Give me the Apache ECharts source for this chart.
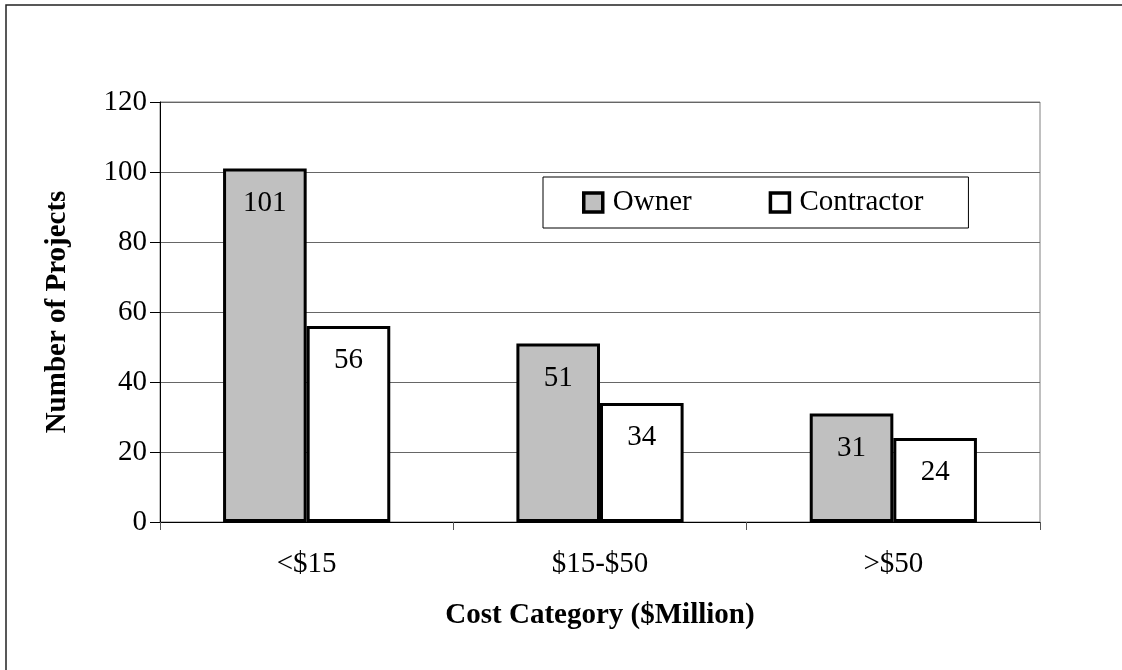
<!DOCTYPE html>
<html>
<head>
<meta charset="utf-8">
<script src="https://cdn.jsdelivr.net/npm/echarts@6/dist/echarts.min.js"></script>
<style>
  html, body { margin: 0; padding: 0; background: #fff; }
  #chart { width: 1122px; height: 670px; }
</style>
</head>
<body>
<div id="chart"></div>
<script>
// Project counts by cost category, split by who delivered the data
const categories = ['<$15', '$15-$50', '>$50'];
const ownerCounts = [101, 51, 31];
const contractorCounts = [56, 34, 24];
const yTicks = { min: 0, max: 120, interval: 20 };

const serif = '"Liberation Serif", "Times New Roman", Times, serif';
const FS = 29;

const valueLabel = {
  show: true,
  position: 'insideTop',
  distance: 20,
  color: '#000',
  fontFamily: serif,
  fontSize: FS
};

const chart = echarts.init(document.getElementById('chart'), null, { renderer: 'canvas' });

chart.setOption({
  backgroundColor: '#fff',
  animation: false,
  graphic: [{
    type: 'rect',
    shape: { x: 6, y: 5, width: 1200, height: 700 },
    style: { fill: 'none', stroke: '#222', lineWidth: 1.5 },
    silent: true
  }],
  grid: {
    left: 160, right: 82, top: 102, bottom: 148,
    show: true, borderColor: '#808080', borderWidth: 1, backgroundColor: 'transparent'
  },
  legend: {
    left: 543, top: 177,
    orient: 'horizontal',
    backgroundColor: '#fff',
    borderColor: '#000', borderWidth: 1,
    padding: [11, 45, 11, 39],
    itemWidth: 19, itemHeight: 19, itemGap: 77,
    icon: 'rect',
    itemStyle: { borderColor: '#000', borderWidth: 3.5 },
    textStyle: { fontFamily: serif, fontSize: FS, color: '#000', padding: [0, 0, 0, 5] },
    data: ['Owner', 'Contractor']
  },
  xAxis: {
    type: 'category',
    data: categories,
    name: 'Cost Category ($Million)',
    nameLocation: 'middle',
    nameGap: 79,
    nameTextStyle: { fontFamily: serif, fontSize: FS, fontWeight: 'bold', color: '#000' },
    axisLine: { lineStyle: { color: '#000', width: 1 } },
    axisTick: { show: true, length: 8, lineStyle: { color: '#555' } },
    axisLabel: { margin: 28, fontFamily: serif, fontSize: FS, color: '#000' },
    splitLine: { show: false }
  },
  yAxis: {
    type: 'value',
    min: yTicks.min, max: yTicks.max, interval: yTicks.interval,
    name: 'Number of Projects',
    nameLocation: 'middle',
    nameGap: 88,
    nameTextStyle: { fontFamily: serif, fontSize: FS, fontWeight: 'bold', color: '#000' },
    axisLine: { show: true, lineStyle: { color: '#000', width: 1 } },
    axisTick: { show: true, length: 10, lineStyle: { color: '#000' } },
    axisLabel: { margin: 13, fontFamily: serif, fontSize: FS, color: '#000' },
    splitLine: { show: true, lineStyle: { color: '#666', width: 1 } }
  },
  series: [
    {
      name: 'Owner',
      type: 'bar',
      data: ownerCounts,
      barGap: '0%',
      barCategoryGap: '43%',
      itemStyle: { color: '#c0c0c0', borderColor: '#000', borderWidth: 3 },
      label: valueLabel
    },
    {
      name: 'Contractor',
      type: 'bar',
      data: contractorCounts,
      itemStyle: { color: '#fff', borderColor: '#000', borderWidth: 3 },
      label: valueLabel
    }
  ]
});
</script>
</body>
</html>
